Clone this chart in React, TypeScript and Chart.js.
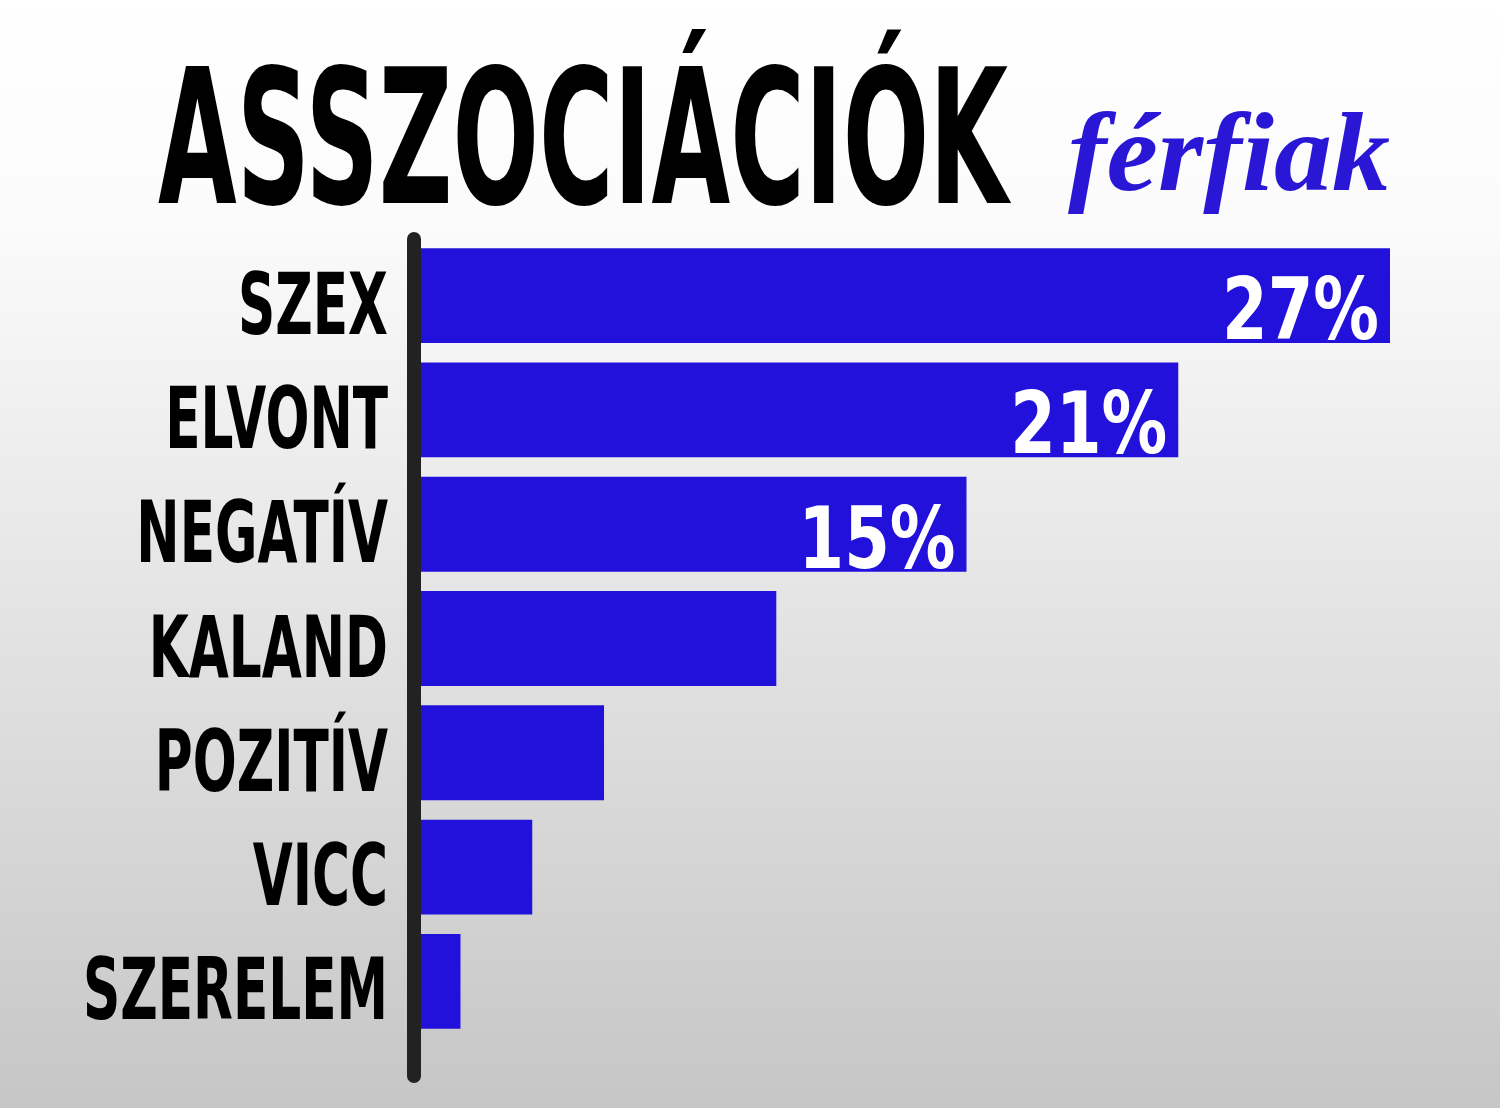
import React, { useEffect, useRef } from 'react';
import { Chart, registerables } from 'chart.js';

Chart.register(...registerables);

const categories = ['SZEX', 'ELVONT', 'NEGATÍV', 'KALAND', 'POZITÍV', 'VICC', 'SZERELEM'];
const values = [27, 21.1, 15.2, 9.9, 5.1, 3.1, 1.1];
const valueLabels = ['27%', '21%', '15%', '', '', '', ''];
const titleText = 'ASSZOCIÁCIÓK';
const subtitleText = 'férfiak';

const W = 1500;
const H = 1108;
const X_MAX = 29.5;
const BAR_COLOR = '#2211db';
const HEAVY = "'DejaVu Sans', sans-serif";

function capRatio(ctx: CanvasRenderingContext2D, font: string): number {
  ctx.save();
  ctx.font = font.replace('{s}', '100px');
  const m = ctx.measureText('H');
  ctx.restore();
  return m.actualBoundingBoxAscent / 100;
}

const decorPlugin = {
  id: 'decor',
  beforeDraw(chart: any) {
    const ctx: CanvasRenderingContext2D = chart.ctx;
    ctx.save();
    const g = ctx.createLinearGradient(0, 0, 0, H);
    g.addColorStop(0, '#ffffff');
    g.addColorStop(0.2, '#fbfbfb');
    g.addColorStop(1, '#c6c6c6');
    ctx.fillStyle = g;
    ctx.fillRect(0, 0, W, H);
    ctx.restore();
  },
  afterDraw(chart: any) {
    const ctx: CanvasRenderingContext2D = chart.ctx;
    const xs = chart.scales.x;
    const ys = chart.scales.y;
    const fontTpl = `bold {s} ${HEAVY}`;
    const r = capRatio(ctx, fontTpl);

    // Title
    {
      const cap = 137;
      const size = cap / r;
      ctx.save();
      ctx.font = fontTpl.replace('{s}', `${size}px`);
      const w = ctx.measureText(titleText).width;
      const sx = 850 / w;
      ctx.translate(158, 203);
      ctx.scale(sx, 1);
      ctx.fillStyle = '#000000';
      ctx.textAlign = 'left';
      ctx.textBaseline = 'alphabetic';
      ctx.fillText(titleText, 0, 0);
      ctx.restore();
    }

    // Subtitle
    {
      ctx.save();
      ctx.font = "bold italic 112px 'Liberation Serif', serif";
      const m = ctx.measureText(subtitleText);
      const sx = 322 / (m.actualBoundingBoxLeft + m.actualBoundingBoxRight);
      ctx.translate(1068 + m.actualBoundingBoxLeft * sx, 190);
      ctx.scale(sx, 1);
      ctx.fillStyle = '#2a17d6';
      ctx.textAlign = 'left';
      ctx.fillText(subtitleText, 0, 0);
      ctx.restore();
    }

    // Category labels
    {
      const cap = 62;
      const size = cap / r;
      ctx.save();
      ctx.font = fontTpl.replace('{s}', `${size}px`);
      const sx = 305 / ctx.measureText('SZERELEM').width;
      ctx.fillStyle = '#000000';
      ctx.textAlign = 'right';
      ctx.textBaseline = 'alphabetic';
      categories.forEach((c, i) => {
        const y = ys.getPixelForValue(i) + 7 + cap / 2;
        ctx.save();
        ctx.translate(388, y);
        ctx.scale(sx, 1);
        ctx.fillText(c, 0, 0);
        ctx.restore();
      });
      ctx.restore();
    }

    // Value labels
    {
      const cap = 63;
      const size = cap / r;
      ctx.save();
      ctx.font = fontTpl.replace('{s}', `${size}px`);
      const sx = 157 / ctx.measureText('27%').width;
      ctx.fillStyle = '#ffffff';
      ctx.textAlign = 'right';
      valueLabels.forEach((t, i) => {
        if (!t) return;
        const x = xs.getPixelForValue(values[i]) - 11;
        const y = ys.getPixelForValue(i) + 12 + cap / 2;
        ctx.save();
        ctx.translate(x, y);
        ctx.scale(sx, 1);
        ctx.fillText(t, 0, 0);
        ctx.restore();
      });
      ctx.restore();
    }

    // Axis line
    {
      ctx.save();
      ctx.strokeStyle = '#222222';
      ctx.lineWidth = 14;
      ctx.lineCap = 'round';
      ctx.beginPath();
      const x = xs.getPixelForValue(0) - 7;
      ctx.moveTo(x, 239);
      ctx.lineTo(x, 1076);
      ctx.stroke();
      ctx.restore();
    }
  },
};

export default function App() {
  const ref = useRef<HTMLCanvasElement>(null);
  useEffect(() => {
    document.body.style.margin = '0';
    const canvas = ref.current;
    if (!canvas) return;
    const pxPerUnit = (1390 - 421) / 27;
    const chart = new Chart(canvas, {
      type: 'bar',
      data: {
        labels: categories,
        datasets: [
          {
            data: values,
            backgroundColor: BAR_COLOR,
            borderWidth: 0,
            barPercentage: 1,
            categoryPercentage: 0.83,
          },
        ],
      },
      options: {
        indexAxis: 'y',
        responsive: false,
        animation: false,
        devicePixelRatio: 1,
        layout: {
          padding: {
            left: 421,
            right: W - 421 - X_MAX * pxPerUnit,
            top: 238.5,
            bottom: 69.5,
          },
        },
        plugins: {
          legend: { display: false },
          tooltip: { enabled: false },
        },
        scales: {
          x: { display: false, min: 0, max: X_MAX },
          y: { display: false },
        },
      },
      plugins: [decorPlugin],
    });
    return () => chart.destroy();
  }, []);
  return (
    <div style={{ width: W, height: H, overflow: 'hidden' }}>
      <canvas ref={ref} width={W} height={H} style={{ display: 'block' }} />
    </div>
  );
}
